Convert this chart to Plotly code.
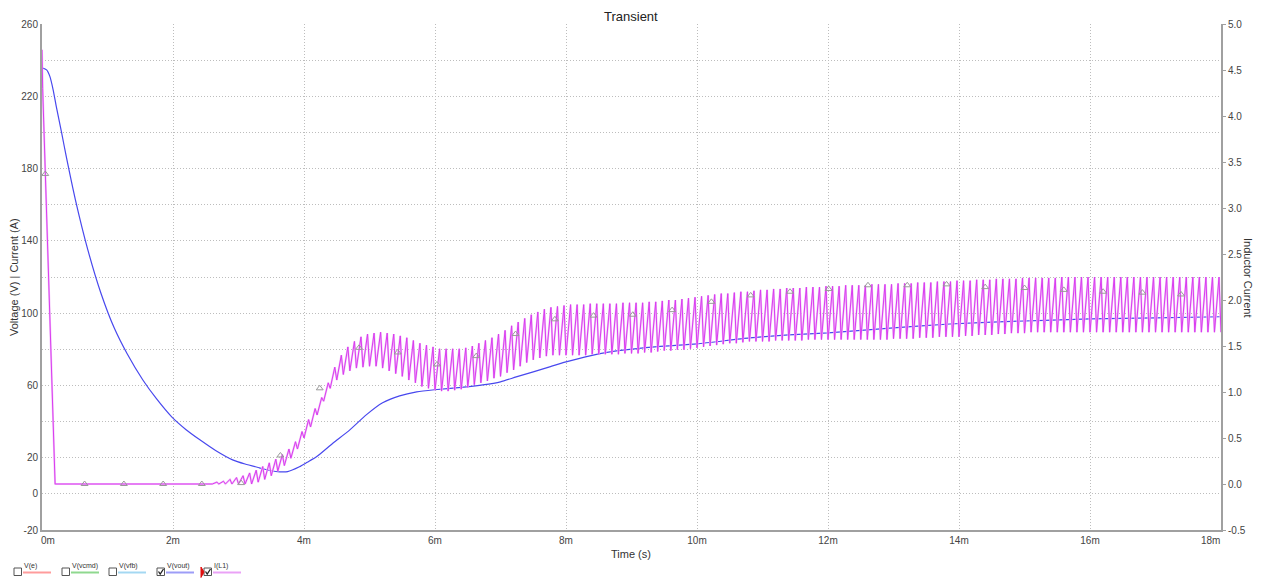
import plotly.graph_objects as go

# ---------------- data (times in ms) ----------------
vout_t = [0.00, 0.07, 0.12, 0.17, 0.22, 0.30, 0.37, 0.51, 0.70, 0.90, 1.10, 1.30, 1.54, 1.75,
          1.98, 2.20, 2.41, 2.65, 2.91, 3.10, 3.32, 3.50, 3.63, 3.75, 3.93, 4.05, 4.19, 4.44,
          4.70, 4.95, 5.20, 5.46, 5.72, 5.99, 6.48, 6.73, 7.00, 7.24, 7.50, 7.75, 8.00, 8.50,
          8.77, 9.40, 10.0, 10.8, 11.4, 12.0, 13.0, 13.86, 14.6, 16.0, 17.0, 18.0]
vout_v = [235.7, 234.6, 231.0, 223.6, 214.0, 199.7, 186.7, 162.7, 135.0, 111.0, 92.0, 77.5, 63.0, 52.5,
          42.6, 35.5, 29.9, 24.0, 18.8, 16.5, 14.4, 12.8, 12.2, 12.3, 15.0, 17.5, 20.5, 28.0,
          35.4, 43.7, 50.4, 54.2, 56.4, 57.6, 59.2, 60.3, 62.0, 64.7, 67.5, 70.3, 73.0, 77.5,
          79.1, 81.5, 83.0, 86.3, 88.0, 89.1, 91.8, 94.0, 95.2, 96.8, 97.4, 98.0]

# inductor current: start-up decay, then zero until switching begins
il_start_t = [0.00, 0.01, 0.20, 2.60]
il_start_i = [4.72, 4.30, 0.00, 0.00]

# switching ripple, one entry per 0.1 ms cycle starting at 2.6 ms
cycle_t0 = 2.6
cycle_period = 0.1
cycle_rise = 0.07
il_peak = [0.02, 0.03, 0.05, 0.07,
           0.09, 0.12, 0.15, 0.19, 0.23, 0.27, 0.32, 0.38, 0.46, 0.57,
           0.70, 0.82, 0.94, 1.10, 1.27, 1.40, 1.49, 1.55, 1.60, 1.63,
           1.64, 1.65, 1.64, 1.63, 1.61, 1.59, 1.56, 1.53, 1.51, 1.49,
           1.47, 1.47, 1.47, 1.47, 1.48, 1.50, 1.53, 1.56, 1.59, 1.63,
           1.67, 1.72, 1.76, 1.80, 1.84, 1.87, 1.90, 1.92, 1.93, 1.94,
           1.95, 1.95, 1.95, 1.96, 1.96, 1.96, 1.96, 1.96, 1.97, 1.97,
           1.97, 1.97, 1.98, 1.98, 1.99, 2.00, 2.00, 2.01, 2.02, 2.03,
           2.04, 2.05, 2.06, 2.07, 2.07, 2.08, 2.09, 2.09, 2.10, 2.11,
           2.11, 2.12, 2.12, 2.13, 2.13, 2.13, 2.14, 2.14, 2.14, 2.15,
           2.15, 2.15, 2.16, 2.16, 2.16, 2.16, 2.17, 2.17, 2.17, 2.17,
           2.18, 2.18, 2.18, 2.19, 2.19, 2.19, 2.20, 2.20, 2.20, 2.21,
           2.21, 2.21, 2.22, 2.22, 2.22, 2.23, 2.23, 2.23, 2.23, 2.24,
           2.24, 2.24, 2.24, 2.24, 2.24, 2.25, 2.25, 2.25, 2.25, 2.25,
           2.25, 2.25, 2.25, 2.25, 2.25, 2.25, 2.25, 2.25, 2.25, 2.25,
           2.25, 2.25, 2.25, 2.25, 2.25, 2.25, 2.25, 2.25, 2.25, 2.25]
il_valley = [0.00, 0.00, 0.00, 0.00,
             0.00, 0.00, 0.00, 0.02, 0.05, 0.09, 0.14, 0.20, 0.28, 0.38,
             0.50, 0.62, 0.75, 0.90, 1.04, 1.13, 1.19, 1.23, 1.26, 1.27,
             1.28, 1.28, 1.26, 1.23, 1.20, 1.17, 1.13, 1.10, 1.06, 1.04,
             1.02, 1.01, 1.01, 1.02, 1.03, 1.05, 1.08, 1.10, 1.12, 1.15,
             1.17, 1.21, 1.24, 1.28, 1.32, 1.35, 1.37, 1.39, 1.40, 1.40,
             1.40, 1.40, 1.40, 1.40, 1.41, 1.41, 1.41, 1.41, 1.41, 1.42,
             1.42, 1.42, 1.43, 1.43, 1.44, 1.45, 1.45, 1.46, 1.46, 1.47,
             1.48, 1.49, 1.50, 1.51, 1.52, 1.53, 1.53, 1.54, 1.55, 1.55,
             1.55, 1.55, 1.56, 1.56, 1.56, 1.56, 1.56, 1.57, 1.57, 1.57,
             1.57, 1.57, 1.57, 1.57, 1.57, 1.57, 1.57, 1.57, 1.57, 1.57,
             1.58, 1.58, 1.58, 1.58, 1.59, 1.59, 1.59, 1.60, 1.60, 1.60,
             1.60, 1.61, 1.61, 1.62, 1.62, 1.62, 1.63, 1.63, 1.64, 1.64,
             1.64, 1.65, 1.65, 1.65, 1.65, 1.65, 1.65, 1.65, 1.65, 1.65,
             1.65, 1.65, 1.65, 1.65, 1.65, 1.65, 1.65, 1.65, 1.65, 1.65,
             1.65, 1.65, 1.65, 1.65, 1.65, 1.65, 1.65, 1.65, 1.65, 1.65]

marker_t = [0.05, 0.65, 1.25, 1.85, 2.44, 3.04, 3.64, 4.24, 4.84, 5.43, 6.03, 6.63, 7.23, 7.83, 8.42,
            9.02, 9.62, 10.22, 10.82, 11.42, 12.01, 12.61, 13.21, 13.81, 14.40, 15.00, 15.60, 16.20,
            16.80, 17.39]
marker_i = [3.37, 0.00, 0.00, 0.00, 0.00, 0.01, 0.31, 1.04, 1.48, 1.43, 1.30, 1.39, 1.63, 1.79, 1.83,
            1.84, 1.89, 1.98, 2.05, 2.09, 2.12, 2.16, 2.16, 2.17, 2.14, 2.13, 2.11, 2.09, 2.08, 2.06]

x_tick_vals = [2, 4, 6, 8, 10, 12, 14, 16]
x_tick_text = ["2m", "4m", "6m", "8m", "10m", "12m", "14m", "16m"]
y_grid_vals = [-20, 0, 20, 40, 60, 80, 100, 120, 140, 160, 180, 200, 220, 240, 260]
y_grid_text = ["-20", "0", "20", "", "60", "", "100", "", "140", "", "180", "", "220", "", "260"]
y2_tick_vals = [-0.5, 0.0, 0.5, 1.0, 1.5, 2.0, 2.5, 3.0, 3.5, 4.0, 4.5, 5.0]
y2_tick_text = ["-0.5", "0.0", "0.5", "1.0", "1.5", "2.0", "2.5", "3.0", "3.5", "4.0", "4.5", "5.0"]

legend_names = ["V(e)", "V(vcmd)", "V(vfb)", "V(vout)", "I(L1)"]
legend_colors = ["#ff9c9c", "#8fd88f", "#a4d8f2", "#9d9df7", "#eaa2f6"]
legend_checked = [False, False, False, True, True]

# ---------------- build inductor current waveform ----------------
il_t = list(il_start_t)
il_i = list(il_start_i)
for k in range(len(il_peak)):
    t0 = cycle_t0 + k * cycle_period
    il_t += [t0, t0 + cycle_rise]
    il_i += [il_valley[k], il_peak[k]]
il_t.append(18.0)
il_i.append(il_valley[-1])

FONT = "Liberation Sans, Arial, sans-serif"
OFF = 8                      # page body margin
W, H = 1261 - 2 * OFF, 582 - OFF
L, R, T, B = 42, 1221, 24, 530   # plot area in page pixels


def px(x):
    return (x - L) / (R - L)


def py(y):
    return (B - y) / (B - T)


fig = go.Figure()
fig.add_trace(go.Scatter(x=vout_t, y=vout_v, mode="lines", line=dict(color="#4848ee", width=1.2,
                         shape="spline", smoothing=0.6), name="V(vout)", yaxis="y", hoverinfo="skip"))
fig.add_trace(go.Scatter(x=il_t, y=il_i, mode="lines", line=dict(color="#f3c0f9", width=2),
                         name="I(L1) halo", yaxis="y2", hoverinfo="skip"))
fig.add_trace(go.Scatter(x=il_t, y=il_i, mode="lines", line=dict(color="#d93cf0", width=1),
                         name="I(L1)", yaxis="y2", hoverinfo="skip"))
fig.add_trace(go.Scatter(x=marker_t, y=marker_i, mode="markers", yaxis="y2",
                         marker=dict(symbol="triangle-up-open", size=6, color="#9a9a9a",
                                     line=dict(width=1, color="#9a9a9a")), hoverinfo="skip"))

shapes = []
annotations = []


def label(text, x, y, size, angle=0, xa="center", ya="middle", color="#333"):
    annotations.append(dict(text=text, x=px(x), y=py(y), xref="paper", yref="paper",
                            showarrow=False, textangle=angle, borderpad=0,
                            font=dict(family=FONT, size=size, color=color),
                            xanchor=xa, yanchor=ya))


label("Transient", 631, 8, 13, ya="top", color="#222")
label("Time (s)", 631, 554, 11)
label("Voltage (V) | Current (A)", 14, 277, 11, angle=-90)
label("Inductor Current", 1248, 277, 11, angle=90)
label("0m", 40, 540, 10, xa="left", color="#444")
label("18m", 1221, 540, 10, xa="right", color="#444")

# legend strip
legend_x = [14, 62, 109, 157, 204]
for name, col, chk, x0 in zip(legend_names, legend_colors, legend_checked, legend_x):
    shapes.append(dict(type="rect", xref="paper", yref="paper", x0=px(x0), x1=px(x0 + 7.5),
                       y0=py(575.5), y1=py(568), line=dict(color="#555", width=1),
                       fillcolor="white"))
    if chk:
        path = "M {:.5f},{:.5f} L {:.5f},{:.5f} L {:.5f},{:.5f}".format(
            px(x0 + 1.5), py(571.5), px(x0 + 3.2), py(574), px(x0 + 6.5), py(569))
        shapes.append(dict(type="path", xref="paper", yref="paper", path=path,
                           line=dict(color="#222", width=1.3)))
    shapes.append(dict(type="line", xref="paper", yref="paper", x0=px(x0 + 9), x1=px(x0 + 37),
                       y0=py(572.5), y1=py(572.5), line=dict(color=col, width=2)))
    label(name, x0 + 8.5, 566, 7, xa="left")

red_path = "M {:.5f},{:.5f} L {:.5f},{:.5f} L {:.5f},{:.5f} Z".format(
    px(201), py(567), px(204), py(572), px(201), py(577.5))
shapes.append(dict(type="path", xref="paper", yref="paper", path=red_path,
                   fillcolor="#e01010", line=dict(color="#e01010", width=1)))

GRID_DASH = "1px,2px"
fig.update_layout(
    width=W, height=H,
    margin=dict(l=L - OFF, r=W - (R - OFF), t=T - OFF, b=H - (B - OFF), autoexpand=False),
    paper_bgcolor="white", plot_bgcolor="white",
    showlegend=False,
    font=dict(family=FONT, size=10, color="#444"),
    xaxis=dict(range=[0, 18], tickvals=x_tick_vals, ticktext=x_tick_text,
               showgrid=True, gridcolor="#bdbdbd", griddash=GRID_DASH, gridwidth=1,
               zeroline=False, showline=True, linecolor="#a0a0a0", linewidth=2,
               ticks="", tickfont=dict(family=FONT, size=10, color="#444")),
    yaxis=dict(range=[-20, 260], tickvals=y_grid_vals, ticktext=y_grid_text,
               showgrid=True, gridcolor="#bdbdbd", griddash=GRID_DASH, gridwidth=1,
               zeroline=False, showline=True, linecolor="#a0a0a0", linewidth=2,
               ticks="", tickfont=dict(family=FONT, size=10, color="#444")),
    yaxis2=dict(range=[-0.5, 5.0], tickvals=y2_tick_vals, ticktext=y2_tick_text,
                overlaying="y", side="right", showgrid=False, zeroline=False,
                showline=True, linecolor="#a0a0a0", linewidth=2,
                ticks="outside", ticklen=3, tickcolor="#a0a0a0",
                tickfont=dict(family=FONT, size=10, color="#444")),
    shapes=shapes,
    annotations=annotations,
)

fig.write_html("out.html")
